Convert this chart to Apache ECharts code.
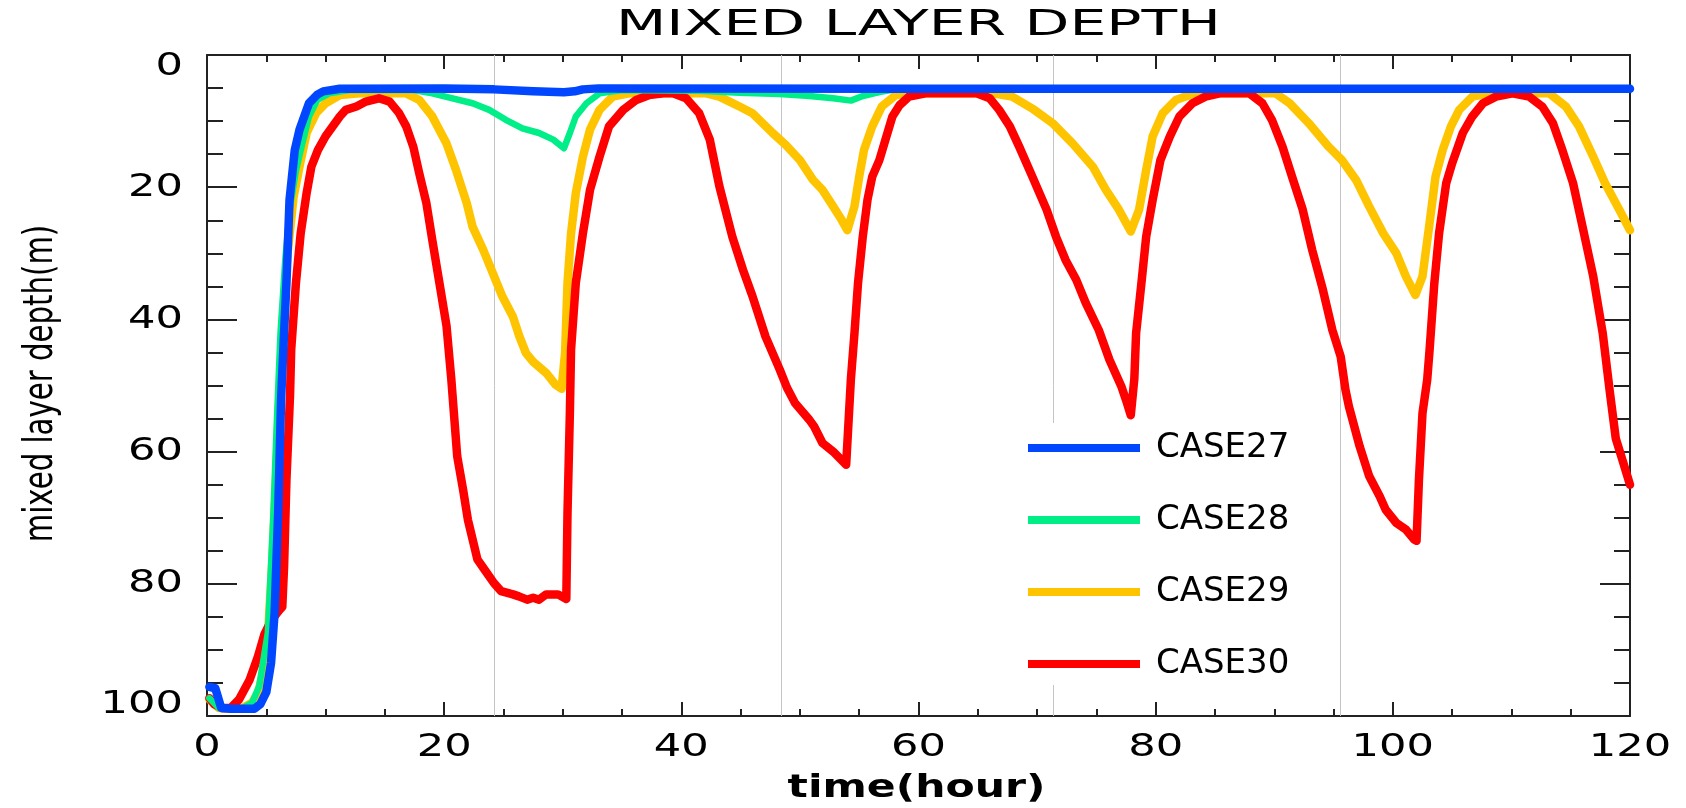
<!DOCTYPE html>
<html>
<head>
<meta charset="utf-8">
<script src="https://cdn.jsdelivr.net/npm/echarts@6/dist/echarts.min.js"></script>
<style>
html,body{margin:0;padding:0;background:#fff;}
#c{width:1686px;height:808px;}
</style>
</head>
<body>
<div id="c"></div>
<script>
// ---------------- data ----------------
const seriesNames = ['CASE27', 'CASE28', 'CASE29', 'CASE30'];
const xTickLabels = [0, 20, 40, 60, 80, 100, 120];
const yTickLabels = [0, 20, 40, 60, 80, 100];
const gridHours = [24.2, 48.4, 71.4, 95.6];
const titleText = 'MIXED LAYER DEPTH';
const xName = 'time(hour)';
const yName = 'mixed layer depth(m)';

// [hour, mixed layer depth (m)]
const case27 = [[0.2,95.6],[0.7,95.8],[1.2,98.8],[2,98.9],[3,98.9],[4,98.9],[4.5,98.2],[5.0,96.4],[5.4,92],[5.7,84.4],[6.0,69.3],[6.25,52],[6.5,42],[6.7,34.5],[6.96,21.9],[7.4,14.4],[7.8,11.3],[8.6,7.3],[9.3,6.0],[9.8,5.5],[11.2,5.1],[20,5.05],[24.2,5.2],[27.5,5.5],[30.1,5.65],[31.0,5.5],[31.7,5.2],[33,5.05],[60,5.1],[90,5.1],[120,5.1]];

const case28 = [[0.2,97.3],[1.0,98.8],[2,98.9],[3,98.8],[3.8,98],[4.4,95.5],[4.8,91],[5.13,87.4],[5.35,79],[5.6,69.3],[5.9,55],[6.2,42],[6.6,31],[7.0,23],[7.5,17.5],[7.9,14.4],[8.6,9.3],[9.3,6.8],[10.3,5.8],[12,5.3],[17.4,5.3],[19,5.8],[20.7,6.55],[22.4,7.3],[23.8,8.3],[25.2,9.8],[26.6,11.1],[28,11.8],[29.2,12.8],[30.1,14.1],[30.6,11.8],[31.1,9.3],[32,7.3],[33.1,5.8],[35,5.3],[41.5,5.4],[44.9,5.7],[48.3,5.9],[50.8,6.2],[52.8,6.55],[54.3,6.9],[55.3,6.2],[56.7,5.6],[58,5.2],[120,5.2]];

const case29 = [[0.2,97.5],[1.0,98.8],[2,98.9],[3,98.8],[3.8,98],[4.3,96.5],[4.8,93],[5.2,86],[5.5,77],[5.8,65],[6.1,52],[6.4,40],[6.8,30],[7.3,21.5],[7.8,16.9],[8.4,11.8],[9.2,8.8],[10,7.3],[11.2,6.05],[12.9,5.8],[16.8,5.8],[17.9,6.8],[19,9.3],[20.2,13.4],[21,17.4],[21.9,22.4],[22.4,26],[23.3,29.5],[24.1,33],[24.9,36.5],[25.8,39.6],[26.35,42.6],[26.9,45.1],[27.5,46.4],[28.6,48.1],[29.4,49.9],[29.9,50.5],[30.2,45],[30.4,34.5],[30.7,27],[31.1,20.9],[31.7,15.4],[32.3,11.3],[33.1,8.3],[34.2,6.3],[35.6,5.8],[42.1,5.8],[43.2,6.3],[44.9,7.8],[46,8.8],[47.7,11.8],[48.8,13.6],[50,15.9],[51.1,18.9],[51.9,20.4],[52.8,22.9],[53.5,24.9],[54,26.5],[54.6,22.9],[55,18.4],[55.4,14.4],[56.1,10.8],[56.9,7.8],[58.1,6.05],[59.2,5.8],[66.3,5.8],[67.9,6.3],[69.6,8.1],[71.3,10.3],[73,13.4],[74.7,16.9],[75.8,20.4],[76.9,23.4],[77.9,26.7],[78.6,23.4],[79.2,17.4],[79.75,12.3],[80.6,8.8],[81.7,6.8],[83.1,5.9],[84.5,5.8],[90.1,5.8],[91.3,7.3],[92.9,10.3],[94.6,13.9],[95.7,15.9],[96.9,18.9],[98,22.9],[99.2,27],[100.3,30],[101.1,33.5],[101.9,36.3],[102.5,33.5],[103.1,25.4],[103.6,18.4],[104.2,14.4],[104.9,10.8],[105.6,8.3],[106.7,6.3],[108.1,5.8],[113.2,5.8],[114.6,7.8],[115.7,10.8],[116.9,15.4],[117.9,19.4],[119.1,23.4],[120,26.5]];

const case30 = [[0.2,97.3],[0.6,98.2],[1.3,98.8],[2,98.8],[2.7,97.5],[3.6,94.5],[4.3,91],[4.85,87.6],[5.4,85.6],[6.1,84],[6.35,83.5],[6.5,77.4],[6.7,64.2],[7.0,51.6],[7.1,44.6],[7.5,34.5],[7.9,27],[8.4,20.9],[8.8,16.9],[9.35,14.4],[10,12.3],[11.2,9.3],[11.7,8.3],[12.6,7.8],[13.4,7.05],[14.5,6.55],[15.4,7.05],[16.2,8.8],[16.8,10.8],[17.4,13.9],[17.9,17.9],[18.5,22.4],[19,28],[19.6,34.5],[20.2,41],[20.6,49],[21.1,60.7],[21.6,65.8],[22,70.3],[22.4,73.3],[22.8,76.3],[23.5,78.1],[24.2,79.9],[24.8,81.1],[25.8,81.6],[26.3,81.9],[27,82.4],[27.5,82.1],[28,82.4],[28.6,81.6],[29.6,81.6],[30.3,82.3],[30.4,69.3],[30.6,54.2],[30.7,44.6],[31.1,34.5],[31.7,27],[32.3,20.4],[33.1,15.4],[33.9,10.8],[35.1,8.3],[36.2,6.8],[37.3,6.05],[38.5,5.8],[39.3,5.8],[40.4,6.55],[41.5,8.8],[42.4,12.8],[43.2,19.8],[44.3,27.5],[45.2,32.5],[46,36.5],[47.1,42.6],[48.3,47.6],[48.9,50.3],[49.6,52.7],[50.8,55.2],[51.2,56.2],[51.9,58.7],[52.8,60],[53.9,62],[54.3,49],[54.6,42.1],[54.9,34.5],[55.3,27.5],[55.7,21.9],[56.1,18.4],[56.7,15.9],[57.3,12.3],[57.8,9.3],[58.4,7.6],[59.2,6.3],[60.6,5.8],[64.9,5.8],[66,6.55],[66.8,8.3],[67.7,10.8],[68.5,13.9],[69.6,18.4],[70.8,23.4],[71.6,27.5],[72.4,31],[73.3,34],[74.1,37.5],[75.2,41.6],[76.1,46.1],[77.1,50.1],[77.5,52.2],[77.9,54.5],[78.2,49],[78.35,42.1],[78.8,34.5],[79.2,27.5],[79.75,21.9],[80.4,15.9],[81.2,12.3],[82,9.3],[83.1,7.3],[84.2,6.3],[85.4,5.8],[87.9,5.8],[89,7.3],[89.8,9.8],[90.7,13.9],[91.5,18.4],[92.4,23.4],[93.2,29.5],[94.1,35.5],[94.9,41.6],[95.6,45.6],[96,50.6],[96.3,53.2],[97.2,59.2],[98,63.7],[98.9,66.8],[99.4,68.8],[100.3,70.8],[101.1,71.8],[101.8,73.3],[102,73.5],[102.2,64.3],[102.5,54.2],[102.9,49.1],[103.1,44.6],[103.5,34.5],[103.9,27],[104.5,19.4],[105,16.4],[105.9,11.8],[106.7,9.3],[107.6,7.3],[108.7,6.3],[110.1,5.8],[111.5,6.3],[112.6,7.8],[113.5,10.3],[114.3,14.4],[115.2,19.4],[116,26],[116.9,33.5],[117.7,42.1],[118.3,51],[118.8,58],[119.4,61.5],[120,65]];

// ---------------- styling ----------------
const colors = { CASE27: '#0047ff', CASE28: '#00ee88', CASE29: '#ffc400', CASE30: '#ff0000' };
const widths = { CASE27: 8.5, CASE28: 6.5, CASE29: 8.5, CASE30: 8.5 };
const dataByName = { CASE27: case27, CASE28: case28, CASE29: case29, CASE30: case30 };
const drawOrder = ['CASE29', 'CASE30', 'CASE28', 'CASE27'];
const FONT = '"DejaVu Sans", "Liberation Sans", sans-serif';

function axisCommon(extra) {
  return Object.assign({
    type: 'value',
    axisLine: { show: true, onZero: false, lineStyle: { color: '#222', width: 2 } },
    axisLabel: { show: false },
    splitLine: { show: false },
  }, extra);
}

const xTick = { show: true, inside: true, length: 14, lineStyle: { color: '#222', width: 2 } };
const xMinor = { show: true, splitNumber: 4, length: 7, lineStyle: { color: '#222', width: 2 } };
const yTick = { show: true, inside: true, length: 30, lineStyle: { color: '#222', width: 2 } };
const yMinor = { show: true, splitNumber: 4, length: 16, lineStyle: { color: '#222', width: 2 } };

const series = drawOrder.map((name, i) => {
  const s = {
    name: name,
    type: 'line',
    data: dataByName[name],
    showSymbol: false,
    symbol: 'none',
    smooth: false,
    z: 2 + i * 0.1,
    lineStyle: { color: colors[name], width: widths[name], join: 'round', cap: 'round' },
    itemStyle: { color: colors[name] },
    emphasis: { disabled: true },
  };
  if (i === 0) {
    s.markLine = {
      silent: true,
      symbol: 'none',
      z: 1,
      animation: false,
      label: { show: false },
      lineStyle: { color: '#c4c4c4', width: 1, type: 'solid' },
      data: gridHours.map(h => ({ xAxis: h })),
    };
  }
  return s;
});

const option = {
  animation: false,
  backgroundColor: '#ffffff',
  grid: { left: 207, right: 56, top: 55, bottom: 92, containLabel: false },
  xAxis: [
    axisCommon({ position: 'bottom', min: 0, max: 120, interval: 20, axisTick: xTick, minorTick: xMinor }),
    axisCommon({ position: 'top', min: 0, max: 120, interval: 20, axisTick: xTick, minorTick: xMinor }),
  ],
  yAxis: [
    axisCommon({ position: 'left', inverse: true, min: 0, max: 100, interval: 20, axisTick: yTick, minorTick: yMinor }),
    axisCommon({ position: 'right', inverse: true, min: 0, max: 100, interval: 20, axisTick: yTick, minorTick: yMinor }),
  ],
  legend: {
    orient: 'vertical',
    left: 998,
    top: 423,
    z: 4,
    backgroundColor: '#ffffff',
    padding: [8, 14, 4, 30],
    itemWidth: 112,
    itemHeight: 8,
    itemGap: 38,
    icon: 'rect',
    selectedMode: false,
    data: seriesNames,
    formatter: name => '{n|' + name + '}',
    textStyle: {
      rich: { n: { fontFamily: FONT, fontSize: 34, color: '#000', lineHeight: 40, padding: [0, 0, 0, 11] } }
    },
  },
  series: series,
};

const chart = echarts.init(document.getElementById('c'), null, { renderer: 'canvas' });
chart.setOption(option);

// ---------------- text placed through the axes' own scales ----------------
function px(x, y) { return chart.convertToPixel({ xAxisIndex: 0, yAxisIndex: 0 }, [x, y]); }
function txt(text, x, y, opts) {
  opts = opts || {};
  return {
    type: 'text', silent: true, z: 10,
    x: x, y: y,
    rotation: opts.rotation || 0,
    scaleX: opts.scaleX || 1,
    style: {
      text: text,
      font: (opts.weight || 'normal') + ' ' + (opts.size || 32) + 'px ' + FONT,
      fill: '#000',
      align: opts.align || 'center', textAlign: opts.align || 'center',
      verticalAlign: 'middle', textVerticalAlign: 'middle',
    },
  };
}
const p00 = px(0, 0), p120 = px(120, 100);
const gTop = p00[1], gBottom = p120[1], gLeft = p00[0], gRight = p120[0];
const gfx = [];
xTickLabels.forEach(v => {
  const p = px(v, 100);
  gfx.push(txt(String(v), p[0], gBottom + 32, { size: 32, scaleX: 1.35 }));
});
yTickLabels.forEach(v => {
  const p = px(0, v);
  const y = Math.min(Math.max(p[1], gTop + 11.5), gBottom - 11);
  gfx.push(txt(String(v), gLeft - 24, y, { size: 32, scaleX: 1.35, align: 'right' }));
});
const cx = (gLeft + gRight) / 2;
gfx.push(txt(titleText, cx, 26, { size: 36, scaleX: 1.62 }));
gfx.push(txt(xName, cx - 2, 789, { size: 32, scaleX: 1.33, weight: 'bold' }));
gfx.push(txt(yName, 42, (gTop + gBottom) / 2 - 2, { size: 40, scaleX: 0.73, rotation: Math.PI / 2 }));
chart.setOption({ graphic: gfx });
</script>
</body>
</html>
